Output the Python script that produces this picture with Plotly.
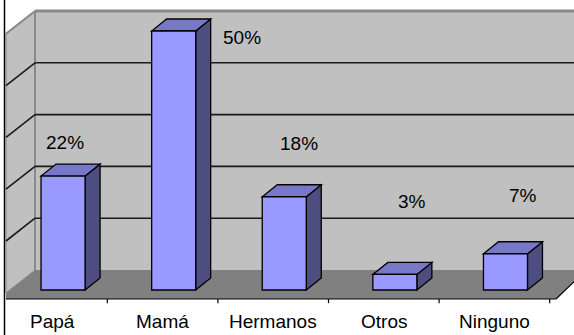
import plotly.graph_objects as go

# ---- data ----
categories = ["Papá", "Mamá", "Hermanos", "Otros", "Ninguno"]
values = [22, 50, 18, 3, 7]          # percent
label_texts = [f"{v}%" for v in values]
grid_levels = [10, 20, 30, 40, 50]

# ---- layout / geometry (axis units: x = category, y = percent) ----
W, H = 574, 335
X_RANGE = [-0.47016, 4.71971]
Y_RANGE = [-8.687, 55.985]

BACK_U, BACK_P = -0.1537, 3.861        # back wall origin offset
SIDE_U, SIDE_P = -0.4159, -0.54        # front edge of side wall
FLOOR_FRONT_P = -1.737
FLOOR_FRONT_U1 = 4.557
FLOOR_BACK_U1 = 4.83
WALL_TOP = 50

BAR_OFF, BAR_HALF = 0.10, 0.199
DEPTH_U, DEPTH_P = 0.1356, 2.317

# value-label placement (offset from category, height in percent units)
LABEL_DU = [0.113, 0.718, 0.229, 0.252, 0.259]
LABEL_P = [28.44, 48.84, 28.32, 17.05, 18.2]

FRONT = "#9999FF"
TOP = "#7878C8"
SIDE = "#4D4D80"
WALL = "#C0C0C0"
FLOOR = "#808080"
FONT = "Liberation Sans, Arial, sans-serif"


def path(pts):
    return "M " + " L ".join(f"{x},{y}" for x, y in pts) + " Z"


shapes = []

# floor
shapes.append(dict(type="path", xref="x", yref="y",
                   path=path([(SIDE_U, FLOOR_FRONT_P), (FLOOR_FRONT_U1, FLOOR_FRONT_P),
                              (FLOOR_BACK_U1, BACK_P), (BACK_U, BACK_P), (SIDE_U, SIDE_P)]),
                   fillcolor=FLOOR, line=dict(width=0)))
# side wall
shapes.append(dict(type="path", xref="x", yref="y",
                   path=path([(SIDE_U, SIDE_P), (BACK_U, BACK_P),
                              (BACK_U, BACK_P + WALL_TOP), (SIDE_U, SIDE_P + WALL_TOP)]),
                   fillcolor=WALL, line=dict(color="#8a8a8a", width=1)))
# back wall
shapes.append(dict(type="rect", xref="x", yref="y",
                   x0=BACK_U, x1=X_RANGE[1] + 0.2, y0=BACK_P, y1=BACK_P + WALL_TOP,
                   fillcolor=WALL, line=dict(width=0)))
# wall outlines
shapes.append(dict(type="line", xref="x", yref="y", x0=BACK_U, x1=X_RANGE[1] + 0.2,
                   y0=BACK_P + WALL_TOP, y1=BACK_P + WALL_TOP,
                   line=dict(color="#888888", width=3)))
shapes.append(dict(type="line", xref="x", yref="y", x0=BACK_U, x1=BACK_U,
                   y0=BACK_P, y1=BACK_P + WALL_TOP, line=dict(color="#8a8a8a", width=2)))
shapes.append(dict(type="line", xref="x", yref="y", x0=SIDE_U, x1=BACK_U,
                   y0=SIDE_P + WALL_TOP, y1=BACK_P + WALL_TOP,
                   line=dict(color="#888888", width=2)))

# gridlines on back and side walls
for g in grid_levels[:-1]:
    shapes.append(dict(type="line", xref="x", yref="y", x0=BACK_U, x1=X_RANGE[1] + 0.2,
                       y0=BACK_P + g, y1=BACK_P + g, line=dict(color="#1a1a1a", width=1.6)))
    shapes.append(dict(type="line", xref="x", yref="y", x0=BACK_U, x1=SIDE_U,
                       y0=BACK_P + g, y1=SIDE_P + g, line=dict(color="#1a1a1a", width=1.6)))

# floor front and right edges, category ticks
shapes.append(dict(type="line", xref="x", yref="y", x0=SIDE_U, x1=FLOOR_FRONT_U1,
                   y0=FLOOR_FRONT_P, y1=FLOOR_FRONT_P, line=dict(color="black", width=1.2)))
shapes.append(dict(type="line", xref="x", yref="y", x0=FLOOR_FRONT_U1, x1=FLOOR_BACK_U1,
                   y0=FLOOR_FRONT_P, y1=BACK_P, line=dict(color="black", width=1.2)))
for i in range(len(categories)):
    shapes.append(dict(type="line", xref="x", yref="y", x0=i + 0.5, x1=i + 0.5,
                       y0=FLOOR_FRONT_P, y1=FLOOR_FRONT_P - 0.8,
                       line=dict(color="black", width=1.2)))

# 3-D bars
for i, v in enumerate(values):
    l = i + BAR_OFF - BAR_HALF
    r = i + BAR_OFF + BAR_HALF
    edge = dict(color="black", width=1.3)
    shapes.append(dict(type="path", xref="x", yref="y",
                       path=path([(r, 0), (r + DEPTH_U, DEPTH_P), (r + DEPTH_U, v + DEPTH_P), (r, v)]),
                       fillcolor=SIDE, line=edge))
    shapes.append(dict(type="path", xref="x", yref="y",
                       path=path([(l, v), (r, v), (r + DEPTH_U, v + DEPTH_P), (l + DEPTH_U, v + DEPTH_P)]),
                       fillcolor=TOP, line=edge))
    shapes.append(dict(type="rect", xref="x", yref="y", x0=l, x1=r, y0=0, y1=v,
                       fillcolor=FRONT, line=edge))

# left border line
shapes.append(dict(type="line", xref="paper", yref="paper", x0=4.5 / W, x1=4.5 / W,
                   y0=0, y1=1, line=dict(color="black", width=1.5)))

annotations = []
for i, (t, du, lp) in enumerate(zip(label_texts, LABEL_DU, LABEL_P)):
    annotations.append(dict(x=i + du, y=lp, xref="x", yref="y", text=t, showarrow=False,
                            font=dict(family=FONT, size=19, color="black"),
                            xanchor="center", yanchor="middle"))
for i, c in enumerate(categories):
    annotations.append(dict(x=i, y=-6.0, xref="x", yref="y", text=c, showarrow=False,
                            font=dict(family=FONT, size=19, color="black"),
                            xanchor="center", yanchor="middle"))

fig = go.Figure(go.Scatter(x=[None], y=[None], hoverinfo="skip", showlegend=False))
fig.update_layout(
    width=W, height=H,
    margin=dict(l=0, r=0, t=0, b=0),
    paper_bgcolor="white", plot_bgcolor="white",
    xaxis=dict(range=X_RANGE, visible=False, fixedrange=True),
    yaxis=dict(range=Y_RANGE, visible=False, fixedrange=True),
    shapes=shapes, annotations=annotations,
    showlegend=False,
)
fig.write_html("out.html")
